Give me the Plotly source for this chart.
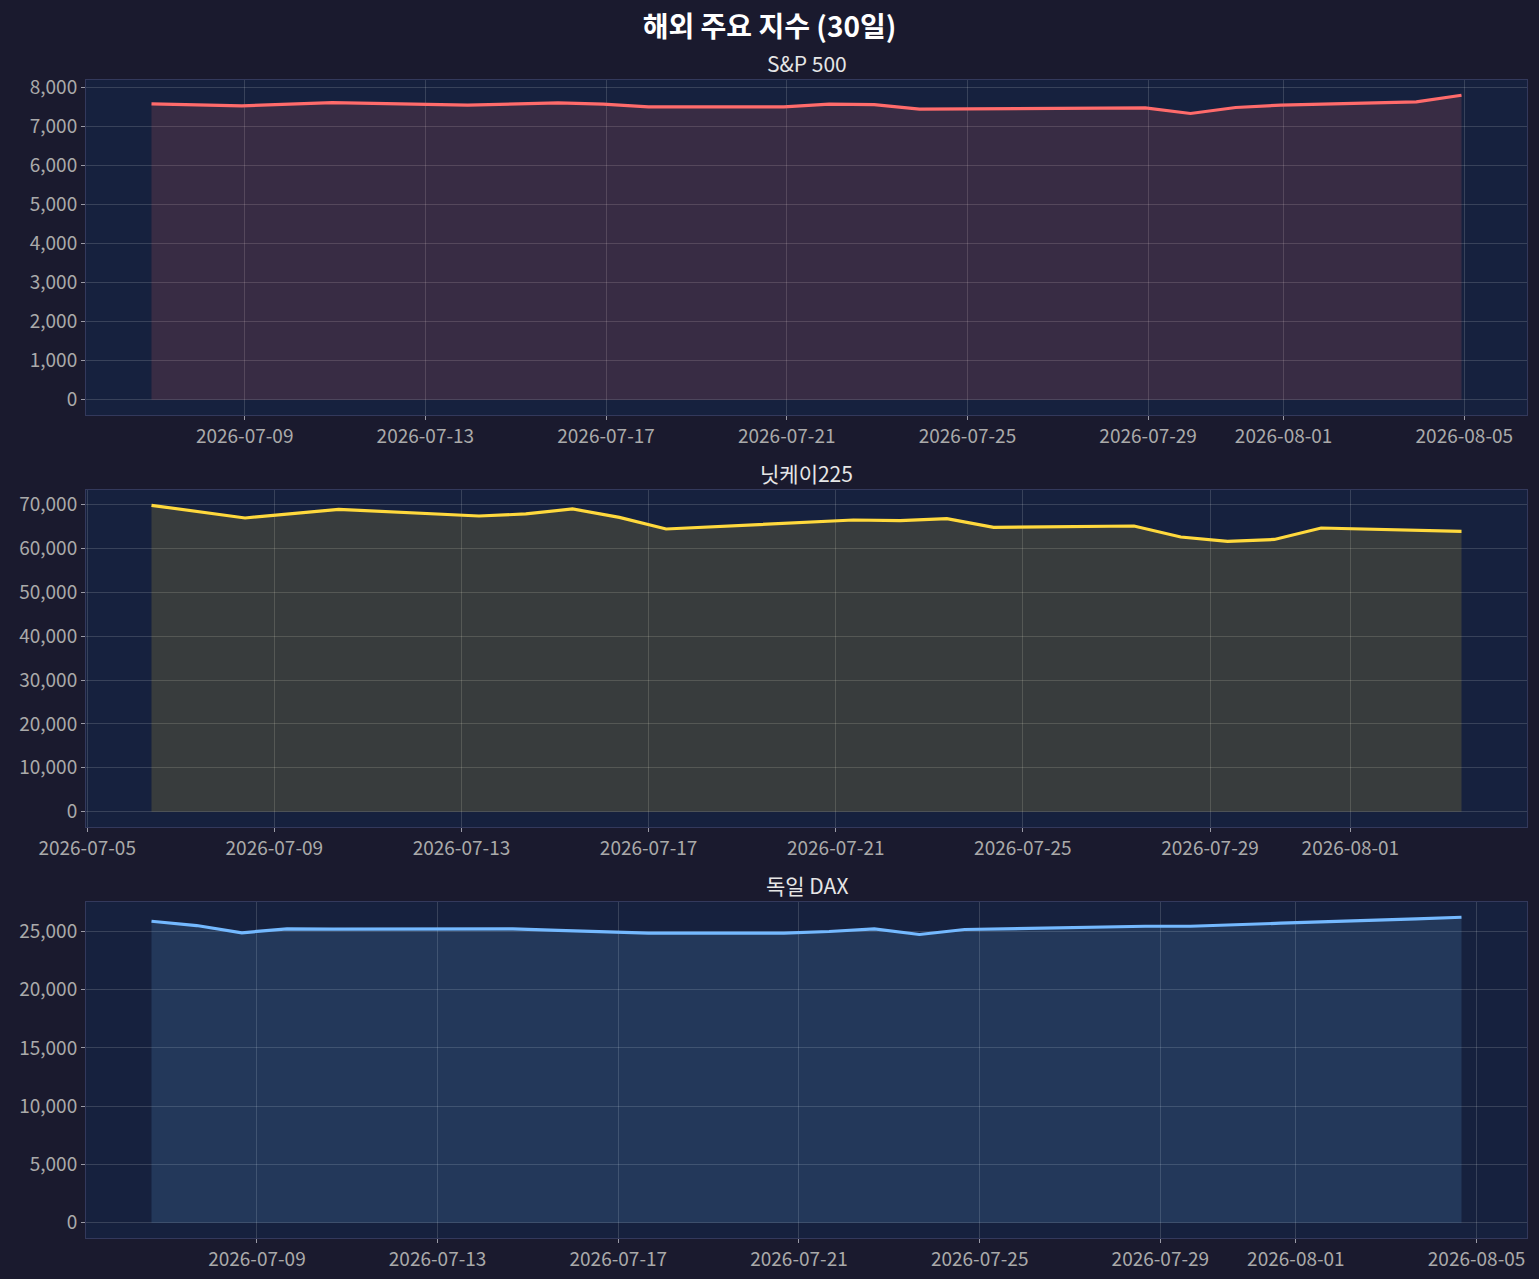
import pandas as pd
import plotly.graph_objects as go

# 해외 주요 지수 30일 (KST 기준 개장 시각)
sp_dates = ["2026-07-06 22:30", "2026-07-08 22:30", "2026-07-10 22:30", "2026-07-13 22:30",
            "2026-07-15 22:30", "2026-07-16 22:30", "2026-07-17 22:30", "2026-07-20 22:30",
            "2026-07-21 22:30", "2026-07-22 22:30", "2026-07-23 22:30", "2026-07-28 22:30",
            "2026-07-29 22:30", "2026-07-30 22:30", "2026-07-31 22:30", "2026-08-03 22:30",
            "2026-08-04 22:30"]
sp_values = [7583, 7532, 7616, 7550, 7608, 7575, 7506, 7506, 7575, 7565, 7448, 7481,
             7336, 7489, 7550, 7634, 7804]

nk_dates = ["2026-07-06 09:00", "2026-07-08 09:00", "2026-07-10 09:00", "2026-07-13 09:00",
            "2026-07-14 09:00", "2026-07-15 09:00", "2026-07-16 09:00", "2026-07-17 09:00",
            "2026-07-21 09:00", "2026-07-22 09:00", "2026-07-23 09:00", "2026-07-24 09:00",
            "2026-07-27 09:00", "2026-07-28 09:00", "2026-07-29 09:00", "2026-07-30 09:00",
            "2026-07-31 09:00", "2026-08-03 09:00"]
nk_values = [69850, 66960, 68930, 67420, 67880, 69020, 67100, 64450, 66500, 66350,
             66800, 64820, 65140, 62620, 61620, 62070, 64680, 63900]

dax_dates = ["2026-07-06 16:00", "2026-07-07 16:00", "2026-07-08 16:00", "2026-07-09 16:00",
             "2026-07-10 16:00", "2026-07-13 16:00", "2026-07-14 16:00", "2026-07-15 16:00",
             "2026-07-16 16:00", "2026-07-17 16:00", "2026-07-20 16:00", "2026-07-21 16:00",
             "2026-07-22 16:00", "2026-07-23 16:00", "2026-07-24 16:00", "2026-07-27 16:00",
             "2026-07-28 16:00", "2026-07-29 16:00", "2026-07-30 16:00", "2026-07-31 16:00",
             "2026-08-03 16:00", "2026-08-04 16:00"]
dax_values = [25880, 25510, 24890, 25230, 25200, 25230, 25230, 25090, 24940, 24860,
              24860, 25000, 25230, 24740, 25170, 25400, 25450, 25450, 25600, 25710,
              26090, 26220]

tick_dates = ["2026-07-05", "2026-07-09", "2026-07-13", "2026-07-17", "2026-07-21",
              "2026-07-25", "2026-07-29", "2026-08-01", "2026-08-05"]

titles = ["S&P 500", "닛케이225", "독일 DAX"]
colors = ["#ff6b6b", "#ffd93d", "#74b9ff"]
fills = ["rgba(255,107,107,0.15)", "rgba(255,217,61,0.15)", "rgba(116,185,255,0.15)"]
ydticks = [1000, 10000, 5000]

FONT = "Noto Sans CJK KR"
W, H = 1539, 1279
# plot area pixel boxes (top, bottom)
boxes = [(80, 415), (490, 827), (902, 1238)]
x0, x1 = 86, 1527

series = [(sp_dates, sp_values), (nk_dates, nk_values), (dax_dates, dax_values)]

fig = go.Figure()
for i, ((d, v), (top, bot)) in enumerate(zip(series, boxes)):
    n = "" if i == 0 else str(i + 1)
    fig.add_trace(go.Scatter(
        x=d, y=v, mode="lines", fill="tozeroy", fillcolor=fills[i],
        line=dict(color=colors[i], width=3.2),
        xaxis="x" + n, yaxis="y" + n, showlegend=False,
    ))
    dt = pd.to_datetime(d)
    pad = (dt.max() - dt.min()) * 0.05
    ymax = max(v) * 1.05
    ymin = -max(v) * 0.05
    common = dict(
        showline=True, mirror=True, linecolor="#33395c", linewidth=1,
        gridcolor="rgba(255,255,255,0.15)", gridwidth=1, zeroline=False,
        ticks="outside", ticklen=4, tickcolor="#9a9aa6",
        tickfont=dict(family=FONT, size=19, color="#aaaaaa"),
        automargin=False,
    )
    fig.layout["xaxis" + n] = dict(
        domain=[x0 / W, x1 / W], anchor="y" + n,
        range=[dt.min() - pad, dt.max() + pad], type="date",
        tickvals=tick_dates, tickformat="%Y-%m-%d", **common,
    )
    fig.layout["yaxis" + n] = dict(
        domain=[1 - bot / H, 1 - top / H], anchor="x" + n,
        range=[ymin, ymax], dtick=ydticks[i], tick0=0, tickformat=",", **common,
    )
    fig.add_annotation(
        text=titles[i], xref="paper", yref="paper",
        x=(x0 + x1) / 2 / W, y=1 - (top - 17) / H, yanchor="middle",
        showarrow=False, font=dict(family=FONT, size=21, color="#e6e6e6"),
    )

fig.update_layout(
    width=W, height=H,
    margin=dict(l=0, r=0, t=0, b=0),
    paper_bgcolor="#1a1a2e", plot_bgcolor="#16213e",
    title=dict(text="<b>해외 주요 지수 (30일)</b>", x=0.5, xanchor="center",
               y=1 - 27 / H, yanchor="middle",
               font=dict(family=FONT, size=28, color="#ffffff")),
    font=dict(family=FONT),
)

fig.write_html("out.html", config={"displayModeBar": False},
               post_script="document.body.style.margin='0';")
